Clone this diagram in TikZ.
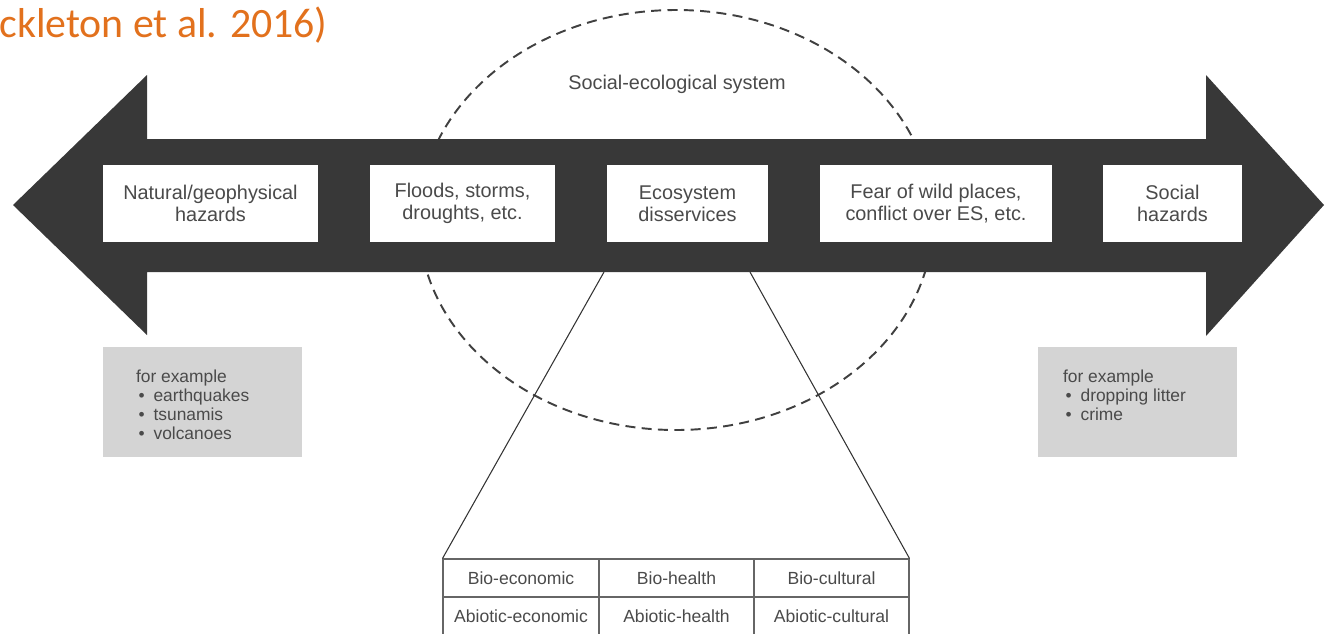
\documentclass[tikz,border=0pt]{standalone}
\usepackage{fontspec}
\setmainfont{Liberation Sans}
\newfontfamily\titlefont{Carlito}
\usepackage{tikz}
\definecolor{arrowgray}{HTML}{383838}
\definecolor{boxgray}{HTML}{D4D4D4}
\definecolor{txtgray}{HTML}{4A4A4A}
\definecolor{refcol}{HTML}{E2711D}

\newcommand{\bul}{\makebox[10pt][l]{\hspace{1.5pt}\textbullet}}

\begin{document}
\begin{tikzpicture}[x=0.02cm,y=-0.02cm,
  hazard/.style={fill=white,text=txtgray,align=center,inner sep=0pt,
    minimum height=1.54cm,font=\fontsize{11.3}{12.5}\selectfont},
  examplebox/.style={fill=boxgray,inner sep=0pt,minimum width=3.98cm,minimum height=2.2cm},
  exampletext/.style={anchor=north west,inner sep=0pt,align=left,text=txtgray,
    font=\fontsize{9.9}{10.8}\selectfont},
  cell/.style={draw=black!60,line width=0.6pt,text=txtgray,inner sep=0pt,
    minimum width=3.1cm,minimum height=0.76cm,font=\fontsize{10}{11}\selectfont},
  zoomline/.style={draw=black!80,line width=0.6pt}]
\useasboundingbox (0,0) rectangle (1325,633);

% citation, cut at the left edge
\node[anchor=base west,inner sep=0pt,text=refcol,font=\titlefont\fontsize{23.8}{26}\selectfont]
  (cite) at (-1,37) {ckleton et al. 2016)};

% social-ecological system
\draw[dashed,dash pattern=on 5.7pt off 3.6pt,line width=1.1pt,black!75] (676,220) ellipse (257 and 210);
\node[text=txtgray,font=\fontsize{11.3}{12.5}\selectfont] (ses) at (677,84) {Social-ecological system};

% double arrow
\fill[arrowgray] (13,205) -- (147,75) -- (147,139) -- (1206,139) -- (1206,75) -- (1324,205)
  -- (1206,336) -- (1206,272) -- (147,272) -- (147,335) -- cycle;

\node[hazard,minimum width=4.3cm] (nat) at (210.5,203.5) {Natural/geophysical\\hazards};
\node[hazard,minimum width=3.7cm] (flood) at (462.5,203.5) {Floods, storms,\\droughts, etc.};
\node[hazard,minimum width=3.22cm] (eds) at (687.5,203.5) {Ecosystem\\disservices};
\node[hazard,minimum width=4.64cm] (fear) at (936,203.5) {Fear of wild places,\\conflict over ES, etc.};
\node[hazard,minimum width=2.78cm] (soc) at (1172.5,203.5) {Social\\hazards};

% examples
\node[examplebox] (natex) at (202.5,402) {};
\node[exampletext] (natlist) at ([xshift=0.66cm,yshift=-0.46cm]natex.north west)
  {for example\\\bul earthquakes\\\bul tsunamis\\\bul volcanoes};
\node[examplebox] (socex) at (1137.5,402) {};
\node[exampletext] (soclist) at ([xshift=0.5cm,yshift=-0.46cm]socex.north west)
  {for example\\\bul dropping litter\\\bul crime};

% disservice types
\node[cell,minimum width=3.12cm] (c11) at (521,578) {Bio-economic};
\node[cell] (c12) at (676.5,578) {Bio-health};
\node[cell] (c13) at (831.5,578) {Bio-cultural};
\node[cell,minimum width=3.12cm] (c21) at (521,616) {Abiotic-economic};
\node[cell] (c22) at (676.5,616) {Abiotic-health};
\node[cell] (c23) at (831.5,616) {Abiotic-cultural};

\coordinate (zl) at (604,272);
\coordinate (zr) at (750,272);
\draw[zoomline] (zl) -- (c11.north west);
\draw[zoomline] (zr) -- (c13.north east);
\end{tikzpicture}
\end{document}
